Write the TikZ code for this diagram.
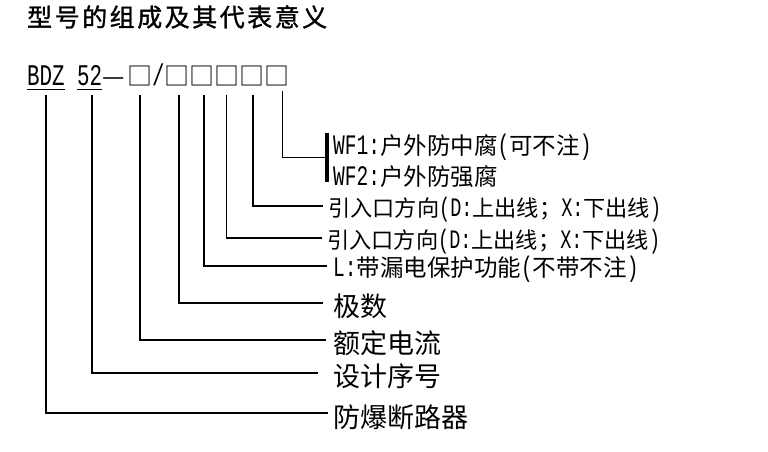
\documentclass[tikz,border=0pt]{standalone}
\usepackage{fontspec}
\newfontfamily\cjk{Noto Sans CJK SC}
\newfontfamily\cjkhead[FakeBold=1.2]{Noto Sans CJK SC}
\newfontfamily\lat[Scale=1.2,FakeStretch=0.6944]{Liberation Mono}
\begin{document}
\begin{tikzpicture}[x=1pt,y=-1pt,
  conn/.style={line width=1.8pt},
  title/.style={font=\cjkhead\fontsize{25}{25}\selectfont\addfontfeature{LetterSpace=10}, anchor=west, inner sep=0pt},
  code/.style={font=\cjk\fontsize{25}{25}\selectfont, anchor=base west, inner sep=0pt},
  biglab/.style={font=\cjk\fontsize{27}{27}\selectfont, anchor=west, inner sep=0pt},
  smalllab/.style={font=\cjk\fontsize{23.5}{23.5}\selectfont, anchor=west, inner sep=0pt},
  dirlab/.style={font=\cjk\fontsize{22.2}{22.2}\selectfont, anchor=west, inner sep=0pt},
  uline/.style={line width=1.2pt}]
\useasboundingbox (0,0) rectangle (768,452);

% title
\node[title] (ttl) at (27,17) {型号的组成及其代表意义};

% code line
\node[code] (bdz) at (27,85) {\lat BDZ};
\node[code] (n52) at (77,85) {\lat 52};
\node[code] (dash) at (102,85) {—};
\node[code] (sq0) at (127,85) {□};
\node[code] (slash) at (152,85) {\lat /};
\node[code] (sq1) at (164.5,85) {□};
\node[code] (sq2) at (189.5,85) {□};
\node[code] (sq3) at (214.5,85) {□};
\node[code] (sq4) at (239.5,85) {□};
\node[code] (sq5) at (264.5,85) {□};
\draw[uline] ([yshift=-4.5pt]bdz.base west) -- ([yshift=-4.5pt]bdz.base east);
\draw[uline] ([yshift=-4.5pt]n52.base west) -- ([yshift=-4.5pt]n52.base east);

% tick tops
\coordinate (k1) at (46,95);
\coordinate (k2) at (91.7,95);
\coordinate (k3) at (140,95);
\coordinate (k4) at (179,95);
\coordinate (k5) at (204,95);
\coordinate (k6) at (226.5,95);
\coordinate (k7) at (253,95);
\coordinate (k8) at (282.5,91);

% labels
\node[biglab] (l1) at (333,416.8) {防爆断路器};
\node[biglab] (l2) at (333,376.2) {设计序号};
\node[biglab] (l3) at (333,343.5) {额定电流};
\node[biglab] (l4) at (333,306.2) {极数};
\node[smalllab] (l5) at (333,269.5) {{\lat L:}带漏电保护功能{\lat (}不带不注{\lat )}};
\node[dirlab] (l6) at (327,241.2) {引入口方向{\lat (D:}上出线；{\lat X:}下出线{\lat )}};
\node[dirlab] (l7) at (328,209.5) {引入口方向{\lat (D:}上出线；{\lat X:}下出线{\lat )}};
\node[fill=black, inner sep=0pt, minimum width=3.3pt, minimum height=49pt] (bar) at (327,157.5) {};
\node[smalllab] (wf1) at (333,147) {{\lat WF1:}户外防中腐{\lat (}可不注{\lat )}};
\node[smalllab] (wf2) at (333,177) {{\lat WF2:}户外防强腐};

% connectors
\draw[conn, shorten >=5pt] (k1) |- ([yshift=3.5pt]l1.west);
\draw[conn, shorten >=15pt] (k2) |- ([yshift=3.5pt]l2.west);
\draw[conn, shorten >=7pt] (k3) |- ([yshift=3.5pt]l3.west);
\draw[conn, shorten >=10pt] (k4) |- ([yshift=3.5pt]l4.west);
\draw[conn, shorten >=6pt] (k5) |- ([yshift=3.5pt]l5.west);
\draw[conn, shorten >=5pt] (k6) |- ([yshift=3.5pt]l6.west);
\draw[conn, shorten >=5pt] (k7) |- ([yshift=3.5pt]l7.west);
\draw[conn] (k8) |- (bar.center);
\end{tikzpicture}
\end{document}
